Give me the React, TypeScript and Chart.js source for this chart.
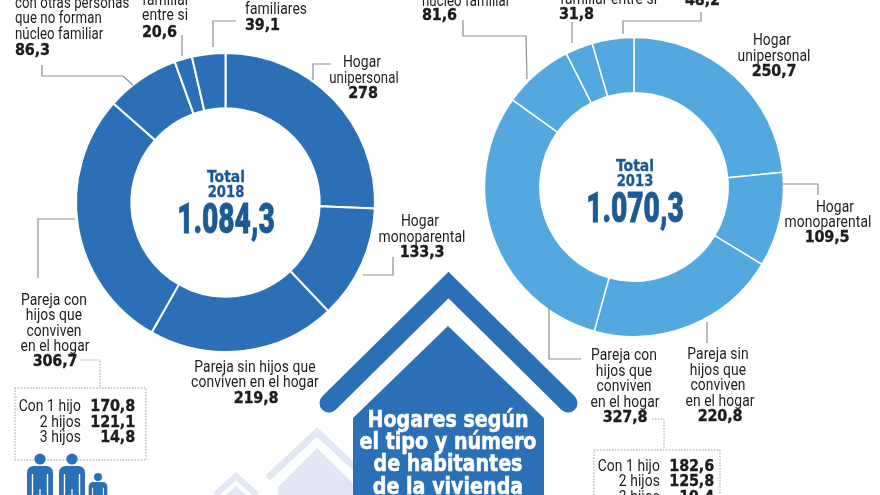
import React, { useEffect, useRef } from "react";
import { Chart, registerables } from "chart.js";

Chart.register(...registerables);

const categories = [
  "Hogar unipersonal",
  "Hogar monoparental",
  "Pareja sin hijos que conviven en el hogar",
  "Pareja con hijos que conviven en el hogar",
  "Con otras personas que no forman núcleo familiar",
  "Personas sin núcleo familiar entre si",
  "Otros familiares",
];
const values2018 = [278, 133.3, 219.8, 306.7, 86.3, 20.6, 39.1];
const values2013 = [250.7, 109.5, 220.8, 327.8, 81.6, 31.8, 48.2];
const hijosLabels = ["Con 1 hijo", "2 hijos", "3 hijos"];
const hijos2018 = [170.8, 121.1, 14.8];
const hijos2013 = [182.6, 125.8, 19.4];
const total2018 = "1.084,3";
const total2013 = "1.070,3";
const titleLines = ["Hogares según", "el tipo y número", "de habitantes", "de la vivienda"];

const DARK = "#2b70b6";
const LIGHT = "#54a8e0";
const NAVY = "#1c5a94";
const GREY = "#8a8d90";
const PALE = "#e2e6f2";

const fmt = (v: number) => String(v).replace(".", ",");

const LABEL_FONT = '"Roboto", sans-serif';
const NUM_FONT = '"DejaVu Sans", sans-serif';

type TProps = {
  x: number;
  y: number;
  children: React.ReactNode;
  a?: "l" | "c" | "r";
  num?: boolean;
  sx?: number;
  style?: React.CSSProperties;
};

function T({ x, y, children, a = "c", num, sx, style }: TProps) {
  const tx = a === "l" ? "0" : a === "c" ? "-50%" : "-100%";
  const scale = sx ?? (num ? 0.9 : 0.84);
  return (
    <div
      style={{
        position: "absolute",
        left: x,
        top: y,
        transform: `translate(${tx},-50%) scaleX(${scale})`,
        transformOrigin: a === "l" ? "left center" : a === "c" ? "center center" : "right center",
        whiteSpace: "nowrap",
        lineHeight: 1,
        color: "#1d1d1f",
        fontFamily: num ? NUM_FONT : LABEL_FONT,
        fontWeight: num ? 700 : 400,
        fontSize: num ? 16 : 16.5,
        letterSpacing: num ? -0.2 : 0.1,
        WebkitTextStroke: num ? "0.35px currentColor" : undefined,
        ...style,
      }}
    >
      {children}
    </div>
  );
}

function Doughnut({
  values,
  color,
  left,
  top,
  size,
  line,
}: {
  values: number[];
  color: string;
  left: number;
  top: number;
  size: number;
  line: number;
}) {
  const ref = useRef<HTMLCanvasElement>(null);
  useEffect(() => {
    const chart = new Chart(ref.current!, {
      type: "doughnut",
      data: {
        labels: categories,
        datasets: [
          {
            data: values,
            backgroundColor: color,
            borderColor: "#ffffff",
            borderWidth: line,
          },
        ],
      },
      options: {
        responsive: false,
        animation: false,
        radius: 149.5,
        cutout: "63%",
        layout: { padding: 0 },
        plugins: { legend: { display: false }, tooltip: { enabled: false } },
      },
    });
    return () => chart.destroy();
  }, []);
  return (
    <canvas
      ref={ref}
      width={size}
      height={size}
      style={{ position: "absolute", left, top, width: size, height: size }}
    />
  );
}

function Person({ x, top, scale = 1 }: { x: number; top: number; scale?: number }) {
  return (
    <g transform={`translate(${x},${top}) scale(${scale})`} fill={DARK}>
      <circle cx={0} cy={0} r={5.6} />
      <path d="M-13 40 V14 Q-13 7 -6 7 H6 Q13 7 13 14 V40 Z" />
      <rect x={-8.2} y={15} width={1.4} height={30} fill="#fff" />
      <rect x={6.8} y={15} width={1.4} height={30} fill="#fff" />
      <rect x={-0.6} y={30} width={1.2} height={12} fill="#fff" />
    </g>
  );
}

function Decor() {
  const leaders = [
    "M313 80 V64 H331",
    "M363 275 H393 V257",
    "M75 219 H38 V278",
    "M133 85 L123 76 H42 V65",
    "M182 56 V35",
    "M213 47 V21 H236",
    "M527 79 L526 36 H463 V20",
    "M572 43 V22",
    "M623 34 V21 H701 V12",
    "M783 184 H818 V195",
    "M707 322 V343",
    "M549 305 V359 H581",
  ];
  const dotted = [
    "M80 360 H100 V388",
    "M15 388 H146 V460 H15 Z",
    "M652 419 H664 V448",
    "M594 495 V450 H720 V495",
  ];
  return (
    <svg
      width={880}
      height={495}
      style={{ position: "absolute", left: 0, top: 0 }}
    >
      {leaders.map((d) => (
        <path key={d} d={d} fill="none" stroke={GREY} strokeWidth={1.2} />
      ))}
      {dotted.map((d) => (
        <path
          key={d}
          d={d}
          fill="none"
          stroke="#9a9c9e"
          strokeWidth={1}
          strokeDasharray="1.5 1.5"
        />
      ))}

      {/* pale background houses */}
      <path d="M215 495 L236 476 L257 495" fill="none" stroke={PALE} strokeWidth={6} />
      <path d="M226 495 L236 486 L246 495 Z" fill={PALE} />
      <path
        d="M270 476 L317 432 L366 478"
        fill="none"
        stroke={PALE}
        strokeWidth={7}
        strokeLinecap="round"
      />
      <path d="M317 448 L278 487 V495 H357 V487 Z" fill={PALE} />

      {/* main house */}
      <path
        d="M329 403 L448.5 285 L568 403"
        fill="none"
        stroke={DARK}
        strokeWidth={19}
        strokeLinecap="round"
      />
      <path d="M448 326 L353 418 V495 H544 V418 Z" fill={DARK} />

      {/* people */}
      <Person x={40} top={459} />
      <Person x={72} top={459} />
      <Person x={98} top={477} scale={0.72} />
    </svg>
  );
}

function Total({ x, y, year, total }: { x: number; y: number; year: string; total: string }) {
  return (
    <>
      <T x={x} y={y} num sx={0.9} style={{ color: NAVY, fontSize: 15.5, letterSpacing: 0 }}>
        Total
      </T>
      <T x={x} y={y + 15} num sx={0.85} style={{ color: NAVY, fontSize: 15.5, letterSpacing: 0 }}>
        {year}
      </T>
      <T
        x={x}
        y={y + 41}
        sx={0.67}
        style={{
          color: NAVY,
          fontFamily: LABEL_FONT,
          fontWeight: 900,
          fontSize: 42,
          letterSpacing: 0,
          WebkitTextStroke: "0.8px " + NAVY,
        }}
      >
        {total}
      </T>
    </>
  );
}

export default function App() {
  useEffect(() => {
    document.body.style.margin = "0";
    document.body.style.background = "#fff";
  }, []);
  const numY2018 = [406, 422, 437];
  const numY2013 = [466, 481, 497];
  return (
    <div
      style={{
        position: "fixed",
        left: 0,
        top: 0,
        width: 880,
        height: 495,
        overflow: "hidden",
        background: "#fff",
      }}
    >
      <Doughnut values={values2018} color={DARK} left={65} top={42} size={321} line={2} />
      <Doughnut values={values2013} color={LIGHT} left={474} top={27} size={320} line={1.5} />
      <Decor />

      <Total x={226} y={178} year="2018" total={total2018} />
      <Total x={635} y={167} year="2013" total={total2013} />

      {/* 2018 labels */}
      <T x={15} y={3} a="l" sx={0.8}>con otras personas</T>
      <T x={15} y={18} a="l" sx={0.8}>que no forman</T>
      <T x={15} y={34} a="l" sx={0.8}>núcleo familiar</T>
      <T x={15} y={50} a="l" num>{fmt(values2018[4])}</T>
      <T x={142} y={0} a="l">familiar</T>
      <T x={142} y={15} a="l">entre si</T>
      <T x={142} y={32} a="l" num>{fmt(values2018[5])}</T>
      <T x={245} y={9} a="l">familiares</T>
      <T x={245} y={25} a="l" num>{fmt(values2018[6])}</T>
      <T x={362} y={62}>Hogar</T>
      <T x={364} y={78} sx={0.8}>unipersonal</T>
      <T x={363} y={93} num>{fmt(values2018[0])}</T>
      <T x={420} y={221}>Hogar</T>
      <T x={422} y={237}>monoparental</T>
      <T x={422} y={252} num>{fmt(values2018[1])}</T>
      <T x={54} y={300}>Pareja con</T>
      <T x={54} y={315}>hijos que</T>
      <T x={54} y={331}>conviven</T>
      <T x={55} y={346}>en el hogar</T>
      <T x={55} y={361} num>{fmt(values2018[3])}</T>
      <T x={255} y={367}>Pareja sin hijos que</T>
      <T x={255} y={382}>conviven en el hogar</T>
      <T x={256} y={398} num>{fmt(values2018[2])}</T>
      {hijosLabels.map((l, i) => (
        <React.Fragment key={l}>
          <T x={81} y={numY2018[i]} a="r">{l}</T>
          <T x={135} y={numY2018[i]} a="r" num>{fmt(hijos2018[i])}</T>
        </React.Fragment>
      ))}

      {/* 2013 labels */}
      <T x={422} y={1} a="l" sx={0.8}>núcleo familiar</T>
      <T x={422} y={15} a="l" num>{fmt(values2013[4])}</T>
      <T x={560} y={-1} a="l">familiar entre si</T>
      <T x={559} y={14} a="l" num>{fmt(values2013[5])}</T>
      <T x={685} y={0} a="l" num>{fmt(values2013[6])}</T>
      <T x={772} y={40}>Hogar</T>
      <T x={774} y={56}>unipersonal</T>
      <T x={774} y={71} num>{fmt(values2013[0])}</T>
      <T x={835} y={207}>Hogar</T>
      <T x={828} y={222}>monoparental</T>
      <T x={827} y={237} num>{fmt(values2013[1])}</T>
      <T x={624} y={355}>Pareja con</T>
      <T x={624} y={371}>hijos que</T>
      <T x={624} y={386}>conviven</T>
      <T x={625} y={402}>en el hogar</T>
      <T x={625} y={417} num>{fmt(values2013[3])}</T>
      <T x={718} y={354}>Pareja sin</T>
      <T x={718} y={370}>hijos que</T>
      <T x={718} y={385}>conviven</T>
      <T x={720} y={401}>en el hogar</T>
      <T x={720} y={416} num>{fmt(values2013[2])}</T>
      {hijosLabels.map((l, i) => (
        <React.Fragment key={l}>
          <T x={660} y={numY2013[i]} a="r">{l}</T>
          <T x={714} y={numY2013[i]} a="r" num>{fmt(hijos2013[i])}</T>
        </React.Fragment>
      ))}

      {/* title */}
      {titleLines.map((l, i) => (
        <T
          key={l}
          x={448}
          y={[419, 441, 463, 486][i]}
          num
          sx={0.83}
          style={{
            color: "#fff",
            fontSize: 23,
            letterSpacing: 0,
            WebkitTextStroke: "0.6px #fff",
            fontFamily: NUM_FONT,
          }}
        >
          {l}
        </T>
      ))}
    </div>
  );
}
